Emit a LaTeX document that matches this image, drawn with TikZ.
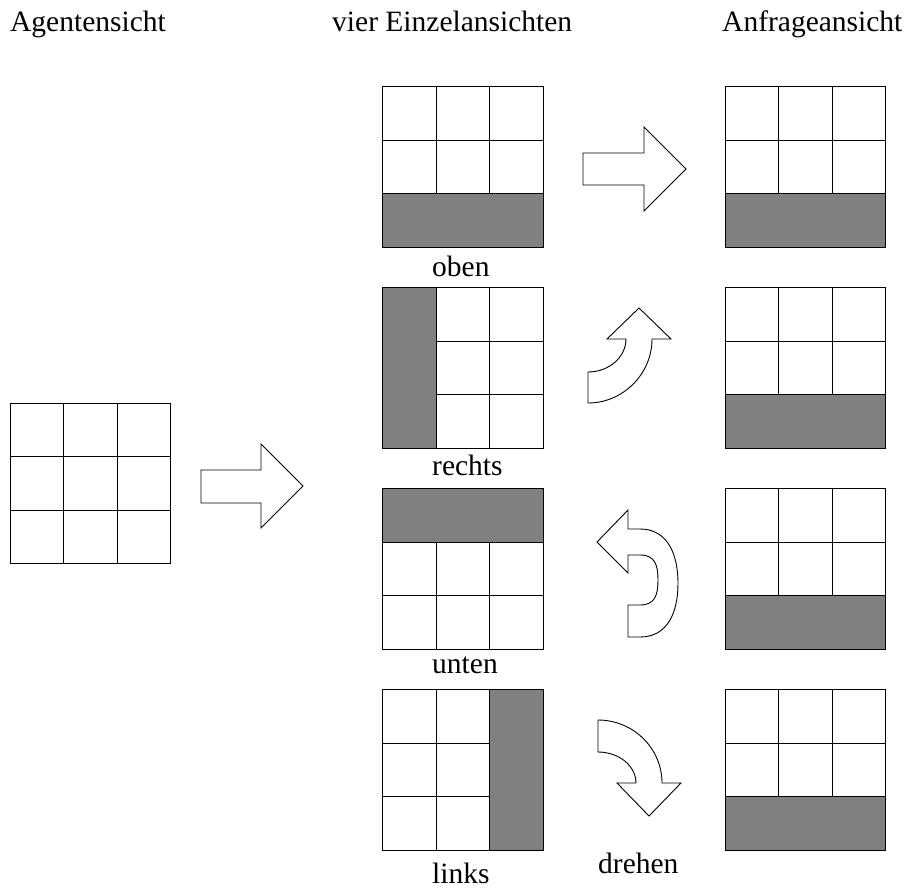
\documentclass[tikz,border=0pt]{standalone}
\usepackage{fontspec}
\setmainfont{Liberation Serif}
\begin{document}
\begin{tikzpicture}[x=1pt,y=-1pt,
  outline/.style={draw=black,line width=0.9pt},
  blockarrow/.style={draw=black,line width=0.9pt,fill=white,line join=miter},
  lbl/.style={font=\fontsize{29.5}{34}\selectfont,inner sep=0pt,anchor=base west},
  % 3x3 view whose bottom row is a single gray wall
  view/.pic={
    \fill[gray] (-80.25,26.75) rectangle (80.25,80.25);
    \foreach \i in {0,1,2}{
      \foreach \j in {0,1}{
        \draw[outline] (-80.25+53.5*\i,-80.25+53.5*\j) rectangle ++(53.5,53.5);
      }
    }
    \draw[outline] (-80.25,26.75) rectangle (80.25,80.25);
  },
  % plain 3x3 grid
  plaingrid/.pic={
    \foreach \i in {0,1,2}{
      \foreach \j in {0,1,2}{
        \draw[outline] (-80.25+53.5*\i,-80.25+53.5*\j) rectangle ++(53.5,53.5);
      }
    }
  }]
\useasboundingbox (0,0) rectangle (905,889);

% column titles
\node[lbl] (tagent) at (10,31) {Agentensicht};
\node[lbl] (tsingle) at (332,31) {vier Einzelansichten};
\node[lbl] (tquery) at (722,31) {Anfrageansicht};

% agent view
\pic (agent) at (90.5,483.5) {plaingrid};

% four single views
\pic (oben) at (463,167) {view};
\pic[rotate=-90] (rechts) at (463,368) {view};
\pic[rotate=180] (unten) at (463,569) {view};
\pic[rotate=90] (links) at (463,770) {view};

\node[lbl] (loben) at (432,276) {oben};
\node[lbl] (lrechts) at (432,475) {rechts};
\node[lbl] (lunten) at (432,673) {unten};
\node[lbl] (llinks) at (432,883) {links};

% query views
\pic (q1) at (805.5,167) {view};
\pic (q2) at (805.5,368) {view};
\pic (q3) at (805.5,569) {view};
\pic (q4) at (805.5,770) {view};

\node[lbl] (ldrehen) at (598,873) {drehen};

% straight arrow: agent view to single views
\draw[blockarrow] (201,470) -- (261,470) -- (261,444) -- (303,486) -- (261,528)
  -- (261,503) -- (201,503) -- cycle;

% straight arrow: no rotation
\draw[blockarrow] (583,153) -- (644,153) -- (644,127) -- (686,169) -- (644,211)
  -- (644,185) -- (583,185) -- cycle;

% curved arrow turning upwards
\draw[blockarrow] (588,403) -- (588,372) .. controls (609,372) and (626,357) .. (626,339)
  -- (607,339) -- (639,308) -- (671,339) -- (652,339)
  .. controls (652,374) and (623,403) .. (588,403) -- cycle;

% U-turn arrow
\draw[blockarrow] (628,529) -- (640,529) .. controls (668,529) and (678,555) .. (678,583)
  .. controls (678,612) and (668,637) .. (640,637) -- (628,637) -- (628,605) -- (640,605)
  .. controls (655,605) and (658,595) .. (658,580) .. controls (658,565) and (655,555) .. (640,555)
  -- (628,555) -- (628,573) -- (597,542) -- (628,510) -- cycle;

% curved arrow turning downwards
\draw[blockarrow] (598,720) .. controls (633,720) and (662,748) .. (662,783)
  -- (681,783) -- (649,816) -- (617,783) -- (636,783)
  .. controls (636,766) and (619,752) .. (598,752) -- cycle;
\end{tikzpicture}
\end{document}
